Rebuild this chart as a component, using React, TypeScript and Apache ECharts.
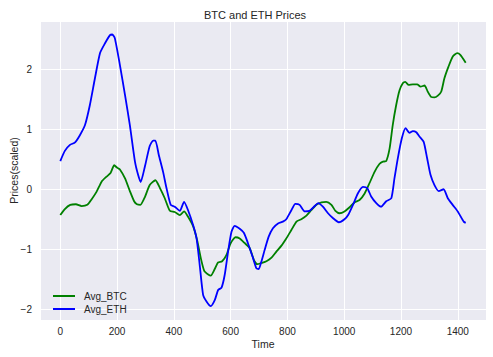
import React, { useEffect, useRef } from "react";
import * as echarts from "echarts";

const btcTime = [0, 16, 35, 55, 75, 95, 110, 128, 146, 163, 177, 190, 200, 210, 228, 245, 260, 270, 282, 298, 315, 335, 351, 368, 386, 403, 421, 436, 450, 468, 483, 495, 507, 521, 530, 544, 556, 570, 585, 600, 617, 632, 650, 667, 682, 694, 708, 726, 744, 761, 779, 796, 814, 832, 849, 867, 884, 902, 920, 937, 955, 969, 984, 1001, 1019, 1036, 1054, 1072, 1089, 1107, 1124, 1136, 1148, 1160, 1171, 1183, 1195, 1207, 1215, 1227, 1242, 1257, 1269, 1283, 1294, 1306, 1318, 1330, 1342, 1353, 1367, 1382, 1398, 1409, 1428];
const btcValues = [-0.43, -0.33, -0.26, -0.25, -0.28, -0.26, -0.17, -0.04, 0.13, 0.21, 0.27, 0.4, 0.36, 0.33, 0.18, -0.03, -0.2, -0.25, -0.26, -0.13, 0.07, 0.15, 0.02, -0.15, -0.36, -0.38, -0.43, -0.37, -0.46, -0.62, -0.87, -1.15, -1.36, -1.42, -1.44, -1.33, -1.22, -1.2, -1.1, -0.9, -0.8, -0.82, -0.9, -0.98, -1.18, -1.25, -1.23, -1.2, -1.14, -1.04, -0.94, -0.82, -0.68, -0.54, -0.5, -0.44, -0.35, -0.26, -0.22, -0.21, -0.26, -0.36, -0.4, -0.37, -0.3, -0.22, -0.18, -0.07, 0.1, 0.29, 0.42, 0.46, 0.47, 0.68, 1.07, 1.4, 1.65, 1.77, 1.79, 1.74, 1.75, 1.75, 1.71, 1.73, 1.63, 1.54, 1.53, 1.56, 1.63, 1.85, 2.04, 2.21, 2.27, 2.24, 2.11];

const ethTime = [0, 16, 34, 52, 69, 87, 104, 122, 140, 157, 175, 183, 192, 210, 228, 245, 263, 274, 283, 298, 315, 327, 335, 347, 362, 374, 389, 403, 421, 436, 450, 468, 480, 491, 503, 515, 530, 544, 556, 568, 579, 591, 603, 614, 632, 647, 661, 679, 691, 699, 708, 720, 734, 749, 767, 784, 796, 814, 828, 843, 861, 878, 896, 908, 925, 943, 960, 981, 1001, 1015, 1031, 1048, 1066, 1081, 1095, 1113, 1130, 1148, 1166, 1177, 1189, 1203, 1216, 1230, 1242, 1254, 1265, 1280, 1292, 1304, 1318, 1333, 1350, 1365, 1382, 1400, 1421, 1428];
const ethValues = [0.47, 0.64, 0.74, 0.78, 0.9, 1.07, 1.4, 1.85, 2.27, 2.43, 2.57, 2.58, 2.52, 2.07, 1.57, 1.07, 0.46, 0.24, 0.12, 0.38, 0.72, 0.81, 0.81, 0.57, 0.29, 0.02, -0.26, -0.29, -0.36, -0.21, -0.35, -0.6, -0.82, -1.26, -1.76, -1.87, -1.95, -1.85, -1.68, -1.64, -1.43, -1.04, -0.71, -0.61, -0.66, -0.73, -0.9, -1.15, -1.32, -1.33, -1.21, -1.01, -0.79, -0.65, -0.57, -0.54, -0.5, -0.35, -0.245, -0.26, -0.37, -0.36, -0.28, -0.23, -0.29, -0.4, -0.48, -0.55, -0.5, -0.42, -0.26, -0.07, 0.04, 0.02, -0.12, -0.23, -0.29, -0.2, -0.15, 0.18, 0.52, 0.85, 1.02, 0.94, 0.97, 0.95, 0.88, 0.79, 0.52, 0.24, 0.07, -0.03, 0.0, -0.15, -0.26, -0.37, -0.54, -0.56];

const seriesNames = ["Avg_BTC", "Avg_ETH"];
const xTicks = [0, 200, 400, 600, 800, 1000, 1200, 1400];
const yTicks = [-2, -1, 0, 1, 2];

const FONT = "'Liberation Sans', Arial, sans-serif";
const TXT = "#262626";

export default function App() {
  const ref = useRef<HTMLDivElement>(null);
  useEffect(() => {
    if (!ref.current) return;
    document.body.style.margin = "0";
    const chart = echarts.init(ref.current, undefined, { renderer: "svg" });
    const pair = (ts: number[], vs: number[]) => ts.map((t, i) => [t, vs[i]]);
    chart.setOption({
      animation: false,
      backgroundColor: "#ffffff",
      textStyle: { fontFamily: FONT },
      title: {
        text: "BTC and ETH Prices",
        left: 199,
        top: 4,
        textStyle: { fontSize: 11, fontWeight: "normal", color: TXT, fontFamily: FONT },
      },
      grid: {
        left: 40,
        right: 7,
        top: 21,
        bottom: 37,
        show: true,
        backgroundColor: "#EAEAF2",
        borderWidth: 0,
        containLabel: false,
        outerBoundsMode: "none",
      },
      legend: {
        orient: "vertical",
        left: 48,
        top: 285,
        icon: "rect",
        itemWidth: 22,
        itemHeight: 2,
        itemGap: 1,
        textStyle: { fontSize: 10, color: TXT, fontFamily: FONT, lineHeight: 12, padding: [0, 0, 0, 4] },
        data: seriesNames,
      },
      xAxis: {
        type: "value",
        min: -71.5,
        max: 1499.5,
        minInterval: 200,
        maxInterval: 200,
        name: "Time",
        nameLocation: "middle",
        nameGap: 18,
        nameMoveOverlap: false,
        nameTextStyle: { fontSize: 10.5, color: TXT, fontFamily: FONT },
        axisLine: { show: false },
        axisTick: { show: false },
        axisLabel: {
          fontSize: 10,
          color: TXT,
          margin: 6,
          fontFamily: FONT,
          formatter: (v: number) => (xTicks.includes(v) ? String(v) : ""),
        },
        splitLine: { show: true, lineStyle: { color: "#ffffff", width: 1 } },
      },
      yAxis: {
        type: "value",
        min: -2.18,
        max: 2.805,
        minInterval: 1,
        maxInterval: 1,
        name: "Prices(scaled)",
        nameLocation: "middle",
        nameGap: 21,
        nameMoveOverlap: false,
        nameTextStyle: { fontSize: 10.5, color: TXT, fontFamily: FONT },
        axisLine: { show: false },
        axisTick: { show: false },
        axisLabel: {
          fontSize: 10,
          color: TXT,
          margin: 8,
          fontFamily: FONT,
          formatter: (v: number) =>
            yTicks.includes(v) ? (v < 0 ? "\u2212" + Math.abs(v) : String(v)) : "",
        },
        splitLine: { show: true, lineStyle: { color: "#ffffff", width: 1 } },
      },
      series: [
        {
          name: seriesNames[0],
          type: "line",
          data: pair(btcTime, btcValues),
          showSymbol: false,
          smooth: 0.2,
          lineStyle: { color: "#008000", width: 1.8 },
          itemStyle: { color: "#008000" },
        },
        {
          name: seriesNames[1],
          type: "line",
          data: pair(ethTime, ethValues),
          showSymbol: false,
          smooth: 0.2,
          lineStyle: { color: "#0000FF", width: 1.8 },
          itemStyle: { color: "#0000FF" },
        },
      ],
    });
    return () => chart.dispose();
  }, []);
  return <div ref={ref} style={{ position: "absolute", left: 0, top: 0, width: 493, height: 357 }} />;
}
